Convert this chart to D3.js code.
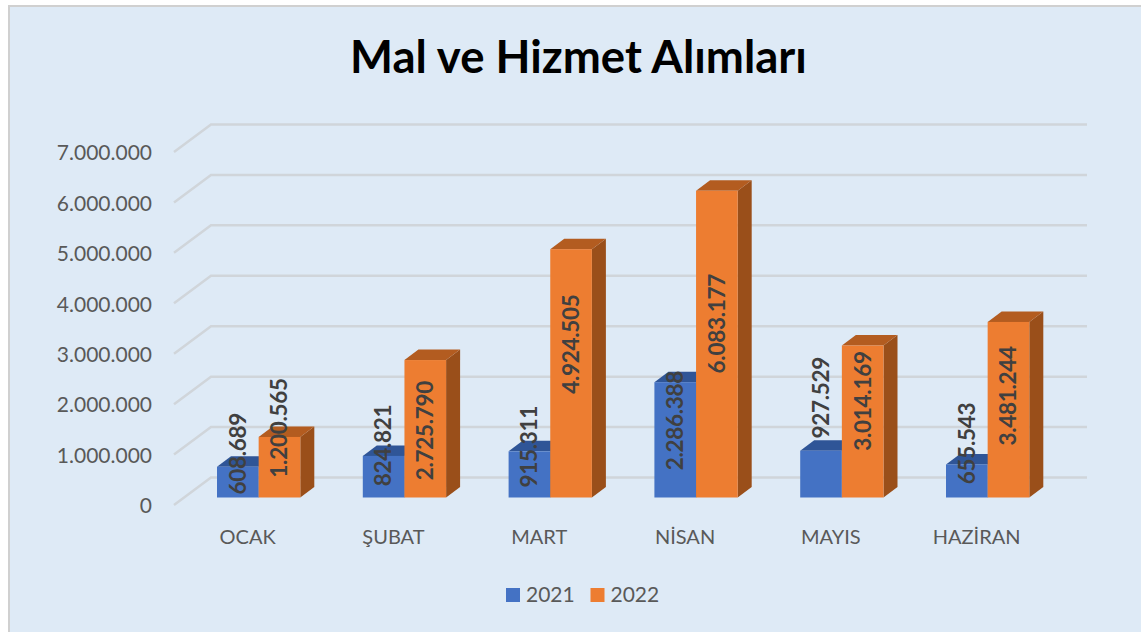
<!DOCTYPE html>
<html>
<head>
<meta charset="utf-8">
<script src="https://cdn.jsdelivr.net/npm/d3@7"></script>
<style>
  html, body { margin: 0; padding: 0; background: #fff; }
  text { font-family: Lato, "Open Sans", sans-serif; }
</style>
</head>
<body>
<div id="chart"></div>
<script>
const months = ["OCAK", "ŞUBAT", "MART", "NİSAN", "MAYIS", "HAZİRAN"];
const years = ["2021", "2022"];
const values2021 = [608689, 824821, 915311, 2286388, 927529, 655543];
const values2022 = [1200565, 2725790, 4924505, 6083177, 3014169, 3481244];
const yTicks = [0, 1000000, 2000000, 3000000, 4000000, 5000000, 6000000, 7000000];

// label centres were hand placed in the original, so these are px off the bar top
const labelLift2021 = [13, 10.5, 4.5, -38.5, 53, 21];
const labelLift2022 = [9, -70.5, -95, -133, -55.5, -74];

const width = 1141, height = 632;
const depth = {x: 14, y: -10.5};       // bar depth
const wallDepth = {x: 37, y: -27.5};   // floor depth, front to back wall

const fillFront = {"2021": "#4472c4", "2022": "#ed7d31"};
const fillTop = {"2021": "#2f5597", "2022": "#b35c20"};
const fillSide = {"2021": "#2a4c87", "2022": "#9a4f1a"};

const svg = d3.select("#chart").append("svg")
    .attr("width", width)
    .attr("height", height)
    .style("display", "block");

svg.append("rect")
    .attr("x", 9).attr("y", 6)
    .attr("width", width).attr("height", height)
    .attr("fill", "#deeaf6")
    .attr("stroke", "#d0d0d0")
    .attr("stroke-width", 2);

svg.append("text")
    .attr("x", 578.5).attr("y", 73)
    .attr("text-anchor", "middle")
    .attr("font-size", 45.5)
    .attr("font-weight", 700)
    .attr("fill", "#000")
    .text("Mal ve Hizmet Alımları");

// y scale for the front edge of the floor; bars stand a little further in
const y = d3.scaleLinear().domain([0, 7000000]).range([505, 152]);
const barBase = -7.5;

const x0 = d3.scaleBand().domain(months).range([217, 1029.3]).paddingInner(0.4287);
const x1 = d3.scaleBand().domain(years).range([0, x0.bandwidth()]);
const fmt = d => d3.format(",")(d).replace(/,/g, ".");

// gridlines, slanted part then the back wall part
svg.append("g").selectAll("path")
    .data(yTicks)
    .enter().append("path")
    .attr("d", d => "M174," + y(d) + "L" + (174 + wallDepth.x) + "," + (y(d) + wallDepth.y) + "H1087")
    .attr("fill", "none")
    .attr("stroke", "#d0d5da")
    .attr("stroke-width", 2.5);

svg.append("g").selectAll("text")
    .data(yTicks)
    .enter().append("text")
    .attr("x", 152)
    .attr("y", d => y(d) + 1)
    .attr("dy", "0.35em")
    .attr("text-anchor", "end")
    .attr("font-size", 21)
    .attr("fill", "#595959")
    .text(fmt);

const rows = [];
months.forEach((m, i) => {
    rows.push({month: m, year: "2021", value: values2021[i], lift: labelLift2021[i]});
    rows.push({month: m, year: "2022", value: values2022[i], lift: labelLift2022[i]});
});

const bars = svg.append("g").selectAll("g")
    .data(rows)
    .enter().append("g");

bars.append("path")
    .attr("fill", d => fillSide[d.year])
    .attr("d", d => {
        let r = x0(d.month) + x1(d.year) + x1.bandwidth(), t = y(d.value) + barBase, b = y(0) + barBase;
        return "M" + r + "," + t + "l" + depth.x + "," + depth.y + "V" + (b + depth.y) + "L" + r + "," + b + "Z";
    });

bars.append("path")
    .attr("fill", d => fillTop[d.year])
    .attr("d", d => {
        let l = x0(d.month) + x1(d.year), t = y(d.value) + barBase;
        return "M" + l + "," + t + "l" + depth.x + "," + depth.y + "h" + x1.bandwidth() + "l" + (-depth.x) + "," + (-depth.y) + "Z";
    });

bars.append("rect")
    .attr("x", d => x0(d.month) + x1(d.year))
    .attr("y", d => y(d.value) + barBase)
    .attr("width", x1.bandwidth())
    .attr("height", d => y(0) - y(d.value))
    .attr("fill", d => fillFront[d.year]);

// labels go on top of every bar
svg.append("g").selectAll("text")
    .data(rows)
    .enter().append("text")
    .attr("transform", d => {
        let cx = x0(d.month) + x1(d.year) + x1.bandwidth() / 2;
        return "translate(" + cx + "," + (y(d.value) + barBase - d.lift) + ") rotate(-90)";
    })
    .attr("dy", "0.35em")
    .attr("text-anchor", "middle")
    .attr("font-size", 22.5)
    .attr("letter-spacing", -0.3)
    .attr("font-weight", 700)
    .attr("fill", "#404040")
    .text(d => fmt(d.value));

svg.append("g").selectAll("text")
    .data(months)
    .enter().append("text")
    .attr("x", d => x0(d) + x0.bandwidth() / 2 - 11)
    .attr("y", 537)
    .attr("dy", "0.35em")
    .attr("text-anchor", "middle")
    .attr("font-size", 20)
    .attr("fill", "#595959")
    .text(d => d);

// legend
const legend = svg.append("g").selectAll("g")
    .data(years)
    .enter().append("g")
    .attr("transform", (d, i) => "translate(" + (506 + i * 84.5) + ",588)");

legend.append("rect")
    .attr("width", 14).attr("height", 14)
    .attr("fill", d => fillFront[d]);

legend.append("text")
    .attr("x", 20).attr("y", 7)
    .attr("dy", "0.35em")
    .attr("font-size", 21)
    .attr("fill", "#595959")
    .text(d => d);
</script>
</body>
</html>
